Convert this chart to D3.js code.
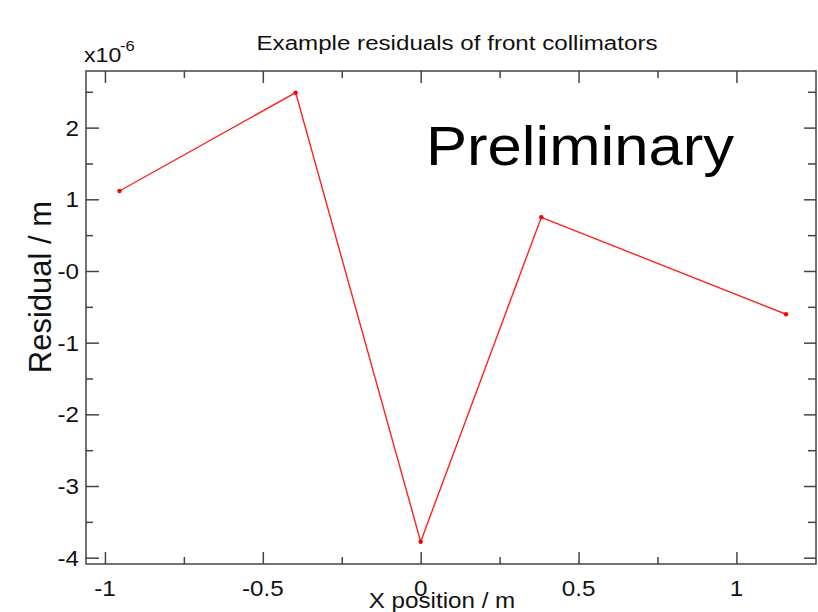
<!DOCTYPE html>
<html>
<head>
<meta charset="utf-8">
<script src="https://cdn.jsdelivr.net/npm/d3@7"></script>
<style>
  html, body { margin: 0; padding: 0; background: #fff; }
  svg { display: block; font-family: "Liberation Sans", Arial, sans-serif; }
</style>
</head>
<body>
<svg id="chart" width="818" height="612"></svg>
<script>
// ---- data ----
const xValues = [-0.954, -0.396, 0.0, 0.382, 1.157];
const residuals = [1.116, 2.488, -3.777, 0.749, -0.604]; // in units of 1e-6 m
const xTickValues = [-1, -0.5, 0, 0.5, 1];
const xTickLabels = ["-1", "-0.5", "0", "0.5", "1"];
const xMinorTicks = [-0.75, -0.25, 0.25, 0.75, 1.25];
const yTickValues = [-4, -3, -2, -1, 0, 1, 2];
const yTickLabels = ["-4", "-3", "-2", "-1", "-0", "1", "2"];
const yMinorTicks = [-3.5, -2.5, -1.5, -0.5, 0.5, 1.5, 2.5];
const title = "Example residuals of front collimators";
const xLabel = "X position / m";
const yLabel = "Residual / m";
const watermark = "Preliminary";

// ---- layout ----
const L = 86, R = 816, T = 71, B = 564;
const svg = d3.select("#chart");
const x = d3.scaleLinear().domain([-1.06, 1.252]).range([L, R]);
const y = d3.scaleLinear().domain([-4.088, 2.79]).range([B, T]);
const axisColor = "#444";
const sx = 1.1;

// frame
svg.append("rect").attr("x", L).attr("y", T).attr("width", R - L).attr("height", B - T)
  .attr("fill", "none").attr("stroke", axisColor).attr("stroke-width", 1.5);

function styleAxis(g) {
  g.select(".domain").remove();
  g.selectAll(".tick line").attr("stroke", axisColor).attr("stroke-width", 1.5);
  g.selectAll(".tick text").remove();
}
// bottom
svg.append("g").attr("transform", `translate(0,${B})`)
  .call(d3.axisBottom(x).tickValues(xTickValues).tickSize(-12)).call(styleAxis);
svg.append("g").attr("transform", `translate(0,${B})`)
  .call(d3.axisBottom(x).tickValues(xMinorTicks.filter(v => x(v) < R - 2)).tickSize(-7)).call(styleAxis);
// top
svg.append("g").attr("transform", `translate(0,${T})`)
  .call(d3.axisTop(x).tickValues(xTickValues).tickSize(-12)).call(styleAxis);
svg.append("g").attr("transform", `translate(0,${T})`)
  .call(d3.axisTop(x).tickValues(xMinorTicks.filter(v => x(v) < R - 2)).tickSize(-7)).call(styleAxis);
// left
svg.append("g").attr("transform", `translate(${L},0)`)
  .call(d3.axisLeft(y).tickValues(yTickValues).tickSize(-13)).call(styleAxis);
svg.append("g").attr("transform", `translate(${L},0)`)
  .call(d3.axisLeft(y).tickValues(yMinorTicks).tickSize(-7)).call(styleAxis);
// right
svg.append("g").attr("transform", `translate(${R},0)`)
  .call(d3.axisRight(y).tickValues(yTickValues).tickSize(-12)).call(styleAxis);
svg.append("g").attr("transform", `translate(${R},0)`)
  .call(d3.axisRight(y).tickValues(yMinorTicks).tickSize(-8)).call(styleAxis);

// tick labels
function scaledText(px, py, str, size, anchor, color, scale) {
  return svg.append("text")
    .attr("transform", `translate(${px},${py}) scale(${scale || sx},1)`)
    .attr("text-anchor", anchor || "start")
    .attr("font-size", size)
    .attr("fill", color || "#111")
    .text(str);
}
xTickValues.forEach((v, i) => {
  scaledText(x(v), 596, xTickLabels[i], 22, "middle");
});
yTickValues.forEach((v, i) => {
  scaledText(79, y(v) + 8, yTickLabels[i], 22, "end");
});

// exponent label
scaledText(84, 62, "x10", 21, "start");
scaledText(120, 51, "-6", 15, "start");

// title
scaledText(457, 50, title, 21, "middle", "#111", 1.15);
// x label
scaledText(442, 608, xLabel, 22, "middle");
// y label
svg.append("text")
  .attr("transform", `translate(51,287) rotate(-90)`)
  .attr("text-anchor", "middle")
  .attr("font-size", 31)
  .attr("fill", "#111")
  .text(yLabel);

// watermark
scaledText(426, 165, watermark, 56, "start", "#000");

// data line
const pts = xValues.map((v, i) => [v, residuals[i]]);
svg.append("path")
  .datum(pts)
  .attr("fill", "none")
  .attr("stroke", "#ff2020")
  .attr("stroke-width", 1.4)
  .attr("d", d3.line().x(d => x(d[0])).y(d => y(d[1])));
svg.selectAll("circle.pt").data(pts).enter().append("circle")
  .attr("class", "pt")
  .attr("cx", d => x(d[0])).attr("cy", d => y(d[1]))
  .attr("r", 2.2).attr("fill", "#ff0000");
</script>
</body>
</html>
